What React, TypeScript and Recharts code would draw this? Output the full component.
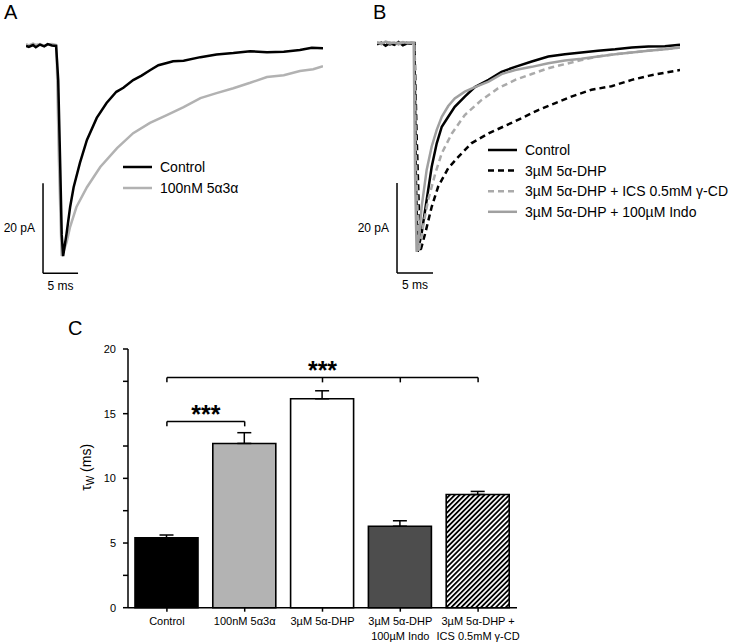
import React from 'react';
import {
  LineChart, Line, XAxis, YAxis, ReferenceLine, Legend,
  BarChart, Bar, Cell, ErrorBar,
} from 'recharts';

const FONT = 'Arial, "Liberation Sans", Helvetica, sans-serif';

// Panel A traces: [time ms, current pA]
const aControl: [number, number][] = [
  [0, -0.2], [0.4, -0.4], [1.0, 0], [1.4, -0.5], [2.0, 0.1], [2.6, -0.3], [3.1, 0.2], [3.7, -0.1], [4.3, -0.2],
  [4.6, -7.8], [4.9, -27.8], [5.1, -42.2], [5.3, -46.9], [5.8, -41.8], [6.3, -36.0], [6.8, -31.6], [7.7, -26.2],
  [8.7, -21.1], [10.1, -16.2], [11.5, -12.9], [12.9, -10.4], [13.9, -9.5], [15.3, -7.8], [16.5, -6.8], [17.7, -5.6],
  [18.9, -4.5], [20.1, -4.0], [21.0, -3.6], [22.5, -3.5], [24.9, -2.7], [27.2, -2.1], [29.6, -1.8], [32.0, -1.4],
  [34.4, -1.6], [36.8, -1.5], [39.1, -1.1], [40.8, -0.6], [42.4, -0.7],
];
const a5a3a: [number, number][] = [
  [0, 0.2], [0.4, -0.1], [1.0, 0.3], [1.4, 0], [2.0, 0.2], [2.6, -0.2], [3.1, 0.1], [3.7, 0.2], [4.3, 0],
  [4.4, -3.3], [4.7, -25.6], [5.0, -42.2], [5.1, -46.9], [5.3, -46.2], [5.8, -43.8], [6.3, -40.4], [7.2, -36.0],
  [8.7, -31.6], [10.6, -27.1], [13.0, -22.9], [15.3, -19.6], [17.7, -17.3], [20.1, -15.6], [22.5, -13.8],
  [24.9, -11.8], [27.2, -10.7], [29.6, -9.6], [32.0, -8.4], [34.4, -7.1], [36.8, -6.7], [39.1, -5.8],
  [41.0, -5.4], [42.4, -4.7],
];

// Panel B traces: [time ms, current pA]
const bControl: [number, number][] = [
  [0, -0.3], [0.6, 0.1], [1.2, -0.6], [1.8, 0], [2.4, -0.4], [3.0, 0.2], [3.6, -0.5], [4.2, -0.1], [4.8, 0], [5.2, 0],
  [5.4, -30.0], [5.65, -46.4], [6.2, -42.3], [6.9, -34.9], [7.6, -27.5], [8.3, -22.3], [9.0, -18.6], [9.9, -16.4],
  [10.8, -14.2], [12.2, -11.9], [13.6, -9.8], [15.5, -8.2], [17.3, -6.4], [19.2, -5.3], [21.5, -4.1], [23.8, -3.0],
  [26.1, -2.5], [28.4, -2.1], [30.7, -1.7], [33.1, -1.4], [35.4, -1.0], [37.7, -0.8], [40.0, -0.7], [42.1, -0.4],
];
const bDhp: [number, number][] = [
  [0, 0], [0.6, -0.2], [1.2, 0.1], [1.8, -0.3], [2.4, 0], [3.0, -0.2], [3.6, 0.1], [4.2, 0], [4.8, -0.1], [5.2, 0],
  [5.5, -20.0], [6.0, -46.4], [6.7, -42.3], [7.6, -36.4], [8.5, -31.9], [9.9, -27.8], [11.3, -25.3], [13.1, -22.3],
  [15.5, -20.1], [17.8, -18.4], [20.1, -16.7], [22.4, -14.9], [24.7, -13.4], [27.0, -11.9], [29.8, -10.4],
  [32.6, -9.6], [35.4, -8.2], [37.7, -7.3], [40.0, -6.6], [42.1, -6.0],
];
const bDhpCd: [number, number][] = [
  [0, 0.1], [0.6, 0], [1.2, 0.2], [1.8, -0.1], [2.4, 0.1], [3.0, 0], [3.6, 0.2], [4.2, 0], [4.8, 0.1], [5.2, 0],
  [5.4, -25.0], [5.8, -46.4], [6.4, -40.8], [7.1, -34.9], [8.1, -29.0], [9.0, -24.5], [10.4, -20.1], [12.2, -16.0],
  [14.5, -12.7], [16.8, -10.1], [19.2, -8.2], [21.5, -6.9], [23.8, -5.6], [26.1, -4.7], [28.4, -3.8], [30.7, -3.0],
  [33.1, -2.5], [35.4, -2.1], [37.7, -1.7], [40.0, -1.4], [42.1, -1.0],
];
const bDhpIndo: [number, number][] = [
  [0, 0.1], [0.6, -0.2], [1.2, 0.3], [1.8, 0], [2.4, 0.1], [3.0, -0.3], [3.6, 0.2], [4.2, 0], [4.8, 0.1], [5.1, 0],
  [5.3, -30.0], [5.5, -46.4], [5.9, -42.0], [6.2, -36.4], [6.9, -28.2], [7.6, -23.0], [8.3, -19.3], [9.0, -16.4],
  [9.9, -14.0], [10.8, -12.3], [12.2, -10.8], [13.6, -9.8], [15.5, -8.6], [17.3, -6.9], [19.2, -6.0], [21.5, -5.3],
  [23.8, -4.5], [26.1, -3.9], [28.4, -3.5], [30.7, -3.0], [33.1, -2.5], [35.4, -2.1], [37.7, -1.7], [40.0, -1.4],
  [42.1, -1.0],
];

// Panel C: weighted decay time constant
const groups = ['ctrl', 'ana', 'dhp', 'indo', 'cd'];
const groupLabels = [
  ['Control'],
  ['100nM 5α3α'],
  ['3µM 5α-DHP'],
  ['3µM 5α-DHP', '100µM Indo'],
  ['3µM 5α-DHP +', 'ICS 0.5mM γ-CD'],
];
const tauMean = [5.4, 12.7, 16.15, 6.3, 8.75];
const tauSem = [0.22, 0.83, 0.62, 0.42, 0.24];
const tauTicks = [0, 2.5, 5, 7.5, 10, 12.5, 15, 17.5, 20];

const barFills = ['#000000', '#b3b3b3', '#ffffff', '#4d4d4d', 'url(#hatch)'];

type Trace = { name: string; pts: [number, number][]; color: string; dash?: string };

const tracesA: Trace[] = [
  { name: 'Control', pts: aControl, color: '#000000' },
  { name: '100nM 5α3α', pts: a5a3a, color: '#b2b2b2' },
];
const tracesB: Trace[] = [
  { name: 'Control', pts: bControl, color: '#000000' },
  { name: '3µM 5α-DHP', pts: bDhp, color: '#000000', dash: '6 4' },
  { name: '3µM 5α-DHP + ICS 0.5mM γ-CD', pts: bDhpCd, color: '#aaaaaa', dash: '6 4' },
  { name: '3µM 5α-DHP + 100µM Indo', pts: bDhpIndo, color: '#a0a0a0' },
];

const toPts = (arr: [number, number][]) => arr.map(([t, i]) => ({ t, i }));

const LegendBox = ({ items, gap }: { items: Trace[]; gap: number }) => (
  <svg width={250} height={items.length * gap + 6} style={{ display: 'block' }}>
    {items.map((it, k) => {
      const cy = 12 + k * gap;
      return (
        <g key={it.name}>
          <line x1={3} x2={32} y1={cy} y2={cy} stroke={it.color} strokeWidth={2.5} strokeDasharray={it.dash} />
          <text x={40} y={cy + 5} fontSize={14} fill="#000" fontFamily={FONT}>{it.name}</text>
        </g>
      );
    })}
  </svg>
);

type PanelProps = {
  width: number;
  margin: { top: number; right: number; bottom: number; left: number };
  xMax: number;
  traces: Trace[];
  drawOrder: number[];
  bar: { t: number; top: number; bottom: number };
  legend: { left: number; top: number; gap: number };
};

const TracePanel = ({ width, margin, xMax, traces, drawOrder, bar, legend }: PanelProps) => (
  <LineChart width={width} height={300} margin={margin}>
    <XAxis type="number" dataKey="t" domain={[0, xMax]} hide allowDataOverflow />
    <YAxis type="number" domain={[-52, 2]} hide allowDataOverflow />
    {drawOrder.map((k) => (
      <Line
        key={traces[k].name}
        name={traces[k].name}
        data={toPts(traces[k].pts)}
        dataKey="i"
        type="linear"
        stroke={traces[k].color}
        strokeWidth={2.5}
        strokeDasharray={traces[k].dash}
        dot={false}
        activeDot={false}
        isAnimationActive={false}
      />
    ))}
    <ReferenceLine
      segment={[{ x: bar.t, y: bar.top }, { x: bar.t, y: bar.bottom }]}
      stroke="#000"
      strokeWidth={1.5}
      label={{ value: '20 pA', position: 'left', offset: 8, fontSize: 12, fill: '#000' }}
    />
    <ReferenceLine
      segment={[{ x: bar.t, y: bar.bottom }, { x: bar.t + 5, y: bar.bottom }]}
      stroke="#000"
      strokeWidth={1.5}
      label={{ value: '5 ms', position: 'bottom', offset: 8, fontSize: 12, fill: '#000' }}
    />
    <Legend
      layout="vertical"
      align="center"
      verticalAlign="middle"
      wrapperStyle={{ left: legend.left, top: legend.top, width: 250 }}
      content={() => <LegendBox items={traces} gap={legend.gap} />}
    />
  </LineChart>
);

const GroupTick = (props: any) => {
  const { x, y, payload } = props;
  const idx = groups.indexOf(payload.value);
  const lines = groupLabels[idx] || [];
  return (
    <text x={x} y={y} textAnchor="middle" fontSize={11} fill="#000">
      {lines.map((l, k) => (
        <tspan key={k} x={x} dy={k === 0 ? 11 : 15.5}>{l}</tspan>
      ))}
    </text>
  );
};

const TauLabel = (props: any) => {
  const { x, y, height } = props.viewBox;
  const cx = x + 23;
  const cy = y + height / 2 - 11;
  return (
    <text x={cx} y={cy} transform={`rotate(-90 ${cx} ${cy})`} textAnchor="middle" fontSize={14} fill="#000">
      τ<tspan fontSize={10} dy={3}>W</tspan><tspan dy={-3}> (ms)</tspan>
    </text>
  );
};

const Stars = (props: any) => {
  const { x, y, width } = props.viewBox;
  return (
    <text x={x + width / 2} y={y + 2} textAnchor="middle" fontSize={25} fontWeight="bold" fill="#000">***</text>
  );
};

const barData = groups.map((g, k) => ({ g, mean: tauMean[k], err: [0, tauSem[k]] }));

const TauBars = () => (
  <BarChart width={735} height={334} data={barData} margin={{ top: 39, right: 218, bottom: 0, left: 68 }}>
    <defs>
      <pattern id="hatch" patternUnits="userSpaceOnUse" width={3.5} height={3.5} patternTransform="rotate(45)">
        <rect width={3.5} height={3.5} fill="#ffffff" />
        <line x1={0.9} y1={0} x2={0.9} y2={3.5} stroke="#000" strokeWidth={1.8} />
      </pattern>
    </defs>
    <XAxis
      dataKey="g"
      height={36.3}
      tick={GroupTick}
      tickSize={4}
      axisLine={{ stroke: '#000', strokeWidth: 1.5 }}
      tickLine={{ stroke: '#000', strokeWidth: 1.5 }}
      interval={0}
    />
    <YAxis
      width={60}
      domain={[0, 20]}
      ticks={tauTicks}
      tickFormatter={(v: number) => (v % 5 === 0 ? String(v) : '')}
      tickSize={5}
      tickMargin={7}
      tick={{ fontSize: 11, fill: '#000' }}
      axisLine={{ stroke: '#000', strokeWidth: 1.5 }}
      tickLine={{ stroke: '#000', strokeWidth: 1.5 }}
      label={{ content: TauLabel }}
    />
    <Bar dataKey="mean" barSize={63} stroke="#000" strokeWidth={1.6} isAnimationActive={false}>
      {barData.map((d, k) => (
        <Cell key={d.g} fill={barFills[k]} />
      ))}
      <ErrorBar dataKey="err" direction="y" width={7} stroke="#000" strokeWidth={1.5} />
    </Bar>
    {/* significance brackets */}
    <ReferenceLine segment={[{ x: 'ctrl', y: 17.8 }, { x: 'cd', y: 17.8 }]} stroke="#000" strokeWidth={1.5} label={{ content: Stars }} />
    {['ctrl', 'dhp', 'indo', 'cd'].map((g) => (
      <ReferenceLine key={'t' + g} segment={[{ x: g, y: 17.8 }, { x: g, y: 17.42 }]} stroke="#000" strokeWidth={1.5} />
    ))}
    <ReferenceLine segment={[{ x: 'ctrl', y: 14.4 }, { x: 'ana', y: 14.4 }]} stroke="#000" strokeWidth={1.5} label={{ content: Stars }} />
    {['ctrl', 'ana'].map((g) => (
      <ReferenceLine key={'l' + g} segment={[{ x: g, y: 14.4 }, { x: g, y: 14.02 }]} stroke="#000" strokeWidth={1.5} />
    ))}
  </BarChart>
);

const letter = (ch: string, left: number, top: number) => (
  <div style={{ position: 'absolute', left, top, fontSize: 20, lineHeight: '20px', color: '#000' }}>{ch}</div>
);

export default function App() {
  return (
    <div style={{ position: 'absolute', left: 0, top: 0, width: 735, height: 644, background: '#fff', fontFamily: FONT }}>
      <div style={{ position: 'absolute', left: 0, top: 0 }}>
        <TracePanel
          width={335}
          margin={{ top: 36, right: 12, bottom: 21, left: 26 }}
          xMax={42.4}
          traces={tracesA}
          drawOrder={[1, 0]}
          bar={{ t: 2.43, top: -30.7, bottom: -50.7 }}
          legend={{ left: 120, top: 155, gap: 21 }}
        />
      </div>
      <div style={{ position: 'absolute', left: 335, top: 0 }}>
        <TracePanel
          width={400}
          margin={{ top: 34, right: 55, bottom: 23, left: 42 }}
          xMax={42.1}
          traces={tracesB}
          drawOrder={[0, 1, 2, 3]}
          bar={{ t: 2.78, top: -31.1, bottom: -51.1 }}
          legend={{ left: 150, top: 138, gap: 20.6 }}
        />
      </div>
      <div style={{ position: 'absolute', left: 0, top: 310 }}>
        <TauBars />
      </div>
      {letter('A', 4, 2)}
      {letter('B', 373, 2)}
      {letter('C', 68, 318)}
    </div>
  );
}
